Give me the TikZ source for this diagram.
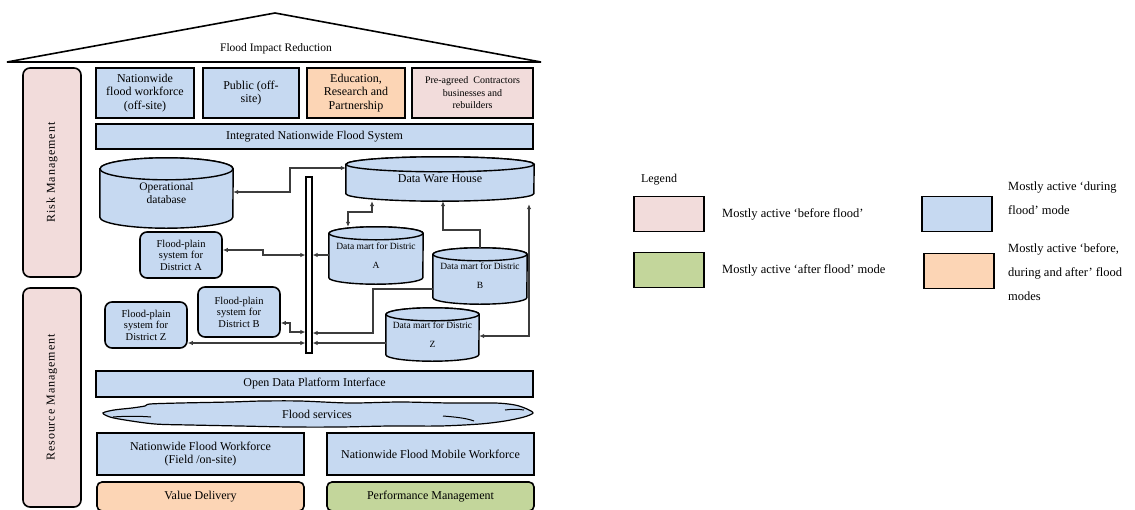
\documentclass[tikz,border=0pt]{standalone}
\usepackage{fontspec}
\setmainfont{Liberation Serif}
\usetikzlibrary{arrows.meta,backgrounds}
\definecolor{Ink}{RGB}{0,0,0}
\definecolor{Wire}{RGB}{60,60,60}
\definecolor{SoftBlue}{RGB}{198,217,241}
\definecolor{SoftPink}{RGB}{242,220,219}
\definecolor{SoftOrange}{RGB}{252,213,181}
\definecolor{SoftGreen}{RGB}{195,214,155}
\tikzset{
  >=Latex,
  box/.style={draw=Ink,line width=1.6pt,fill=SoftBlue,align=center,inner sep=1pt,font=\fontsize{12}{13.5}\selectfont},
  duringbox/.style={box,fill=SoftBlue},
  beforebox/.style={box,fill=SoftPink},
  afterbox/.style={box,fill=SoftGreen},
  allbox/.style={box,fill=SoftOrange},
  mgmtbox/.style={beforebox,rounded corners=7pt,font=\fontsize{12}{14}\selectfont\addfontfeature{LetterSpace=8}},
  plainbox/.style={duringbox,rounded corners=7pt,font=\fontsize{10.5}{11.5}\selectfont},
  dbnode/.style={align=center,inner sep=0pt},
  dbline/.style={draw=Ink,line width=1.4pt,fill=SoftBlue},
  cloudline/.style={draw=Ink,line width=1.2pt},
  keybox/.style={draw=Ink,line width=1.6pt,minimum width=70pt,minimum height=35pt},
  keytext/.style={anchor=west,align=left,inner sep=0pt,font=\fontsize{12.5}{24}\selectfont},
  twoway/.style={{Latex[length=5pt,width=4.5pt]}-{Latex[length=5pt,width=4.5pt]},line width=1.1pt,draw=Wire},
  oneway/.style={-{Latex[length=5pt,width=4.5pt]},line width=1.1pt,draw=Wire}
}
\begin{document}
\begin{tikzpicture}[x=1pt,y=-1pt]
  \useasboundingbox (0,0) rectangle (1135,509);
  \draw[line width=1.6pt] (7,62) -- (275,13) -- (541,62) -- cycle;
  \node[font=\fontsize{11.5}{13}\selectfont] (roof) at (276,49) {Flood Impact Reduction};
  \node[mgmtbox,rotate=90,minimum width=209pt,minimum height=58pt] (risk) at (52,172.5) {Risk Management};
  \node[mgmtbox,rotate=90,minimum width=219pt,minimum height=58pt] (resource) at (52,397.5) {Resource Management};
  \node[duringbox,minimum width=98pt,minimum height=50pt] (offsite) at (145,93) {Nationwide\\flood workforce\\(off-site)};
  \node[duringbox,minimum width=96pt,minimum height=50pt] (public) at (251,93) {Public (off-\\site)};
  \node[allbox,minimum width=98pt,minimum height=50pt] (education) at (356,93) {Education,\\Research and\\Partnership};
  \node[beforebox,minimum width=121pt,minimum height=50pt,font=\fontsize{10}{12.5}\selectfont] (contractors) at (472.5,93) {Pre-agreed~~Contractors\\businesses and\\rebuilders};
  \node[duringbox,minimum width=437pt,minimum height=25pt] (integrated) at (314.5,136.5) {Integrated Nationwide Flood System};
  \node[dbnode,minimum width=133pt,minimum height=70pt,font=\fontsize{11.5}{13}\selectfont] (opdb) at (166.5,193) {Operational\\database};
  \node[dbnode,minimum width=188pt,minimum height=44pt,font=\fontsize{12}{13}\selectfont] (dwh) at (440,179) {Data Ware House};
  \node[draw=Ink,line width=1.2pt,fill=white,minimum width=6pt,minimum height=176pt,inner sep=0pt] (bar) at (309,265) {};
  \node[plainbox,minimum width=82pt,minimum height=46pt] (fpA) at (181,255) {Flood-plain\\system for\\District A};
  \node[plainbox,minimum width=82pt,minimum height=50pt] (fpB) at (239,312) {Flood-plain\\system for\\District B};
  \node[plainbox,minimum width=82pt,minimum height=46pt] (fpZ) at (146,325) {Flood-plain\\system for\\District Z};
  \node[dbnode,minimum width=94pt,minimum height=57pt,font=\fontsize{9.5}{19}\selectfont] (dmA) at (376,255.5) {Data mart for Distric\\A};
  \node[dbnode,minimum width=94pt,minimum height=56pt,font=\fontsize{9.5}{19}\selectfont] (dmB) at (480,276) {Data mart for Distric\\B};
  \node[dbnode,minimum width=93pt,minimum height=53pt,font=\fontsize{9.5}{19}\selectfont] (dmZ) at (432.5,334.5) {Data mart for Distric\\Z};
  \begin{scope}[on background layer]
    \foreach \db/\rx/\ry in {opdb/66.5/11,dwh/94/7.5,dmA/47/6.5,dmB/47/6.5,dmZ/46.5/6.5}{
      \draw[dbline] ([yshift=-\ry*1pt]\db.north west) -- ([yshift=\ry*1pt]\db.south west)
        arc[start angle=180,end angle=0,x radius=\rx,y radius=\ry]
        -- ([yshift=-\ry*1pt]\db.north east)
        arc[start angle=0,end angle=-180,x radius=\rx,y radius=\ry] -- cycle;
      \draw[dbline] ([yshift=-\ry*1pt]\db.north) ellipse[x radius=\rx,y radius=\ry];
    }
  \end{scope}
  \draw[twoway] (opdb.east |- 0,192) -| (290,168) -- (dwh.west |- 290,168);
  \draw[twoway] ([yshift=5pt]fpA.east) -| (263,255) -- (bar.west |- 263,255);
  \draw[oneway] (dmA.west |- 0,255) -- (bar.east |- 0,255);
  \draw[twoway] (dmA.north -| 348,0) |- (372,212) -- (372,0 |- dwh.south);
  \draw[oneway] (dmB.north) |- (443,230) -- (443,0 |- dwh.south);
  \draw[oneway] ([yshift=-13pt]dmB.west) -| (373,333) -- (bar.east |- 373,333);
  \draw[oneway] (dmZ.west |- 0,343) -- (bar.east |- 0,343);
  \draw[twoway] ([yshift=-11pt]fpB.east) -| (290,332) -- (bar.west |- 290,332);
  \draw[twoway] (fpZ.east |- 0,343) -- (bar.west |- 0,343);
  \draw[twoway,shorten >=3pt] (dmZ.east |- 0,336) -| (529,0 |- dwh.south);
  \node[duringbox,minimum width=437pt,minimum height=26pt] (opendata) at (314.5,384) {Open Data Platform Interface};
  \draw[cloudline,fill=SoftBlue] plot[smooth cycle,tension=0.5] coordinates {(103,413) (114,410) (132,408) (145,406) (150,404) (180,403) (230,402) (262,401) (300,401) (350,403) (400,402) (450,403) (495,403) (515,405) (527,409) (533,413) (524,417) (505,421) (480,424) (440,426) (390,426) (340,427) (290,427) (240,426) (190,425) (155,424) (125,420) (110,417)};
  \draw[cloudline,line width=1pt] (113,417) .. controls (125,416) and (140,416) .. (151,417);
  \draw[cloudline,line width=1pt] (443,416) .. controls (455,417) and (466,418) .. (474,421);
  \draw[cloudline,line width=1pt] (505,410) .. controls (512,409) and (518,409) .. (524,410);
  \node[font=\fontsize{12}{13.5}\selectfont] (services) at (317,414) {Flood services};
  \node[duringbox,minimum width=207pt,minimum height=42pt] (fieldwf) at (200.5,454) {Nationwide Flood Workforce\\(Field /on-site)};
  \node[duringbox,minimum width=207pt,minimum height=42pt] (mobilewf) at (430.5,454) {Nationwide Flood Mobile Workforce};
  \node[allbox,rounded corners=5pt,minimum width=207pt,minimum height=29pt] (value) at (200.5,496.5) {Value Delivery};
  \node[afterbox,rounded corners=5pt,minimum width=207pt,minimum height=29pt] (performance) at (430.5,496.5) {Performance Management};
  \node[font=\fontsize{12}{14}\selectfont] (legend) at (659,180) {Legend};
  \node[keybox,fill=SoftPink] (keybefore) at (669,214) {};
  \node[keytext] (keybeforetext) at (722,214) {Mostly active `before flood'};
  \node[keybox,fill=SoftGreen] (keyafter) at (669,270) {};
  \node[keytext] (keyaftertext) at (722,270) {Mostly active `after flood' mode};
  \node[keybox,fill=SoftBlue] (keyduring) at (957,214) {};
  \node[keytext] (keyduringtext) at (1008,198) {Mostly active `during\\flood' mode};
  \node[keybox,fill=SoftOrange] (keyall) at (959,271) {};
  \node[keytext] (keyalltext) at (1008,272) {Mostly active `before,\\during and after' flood\\modes};
\end{tikzpicture}
\end{document}
